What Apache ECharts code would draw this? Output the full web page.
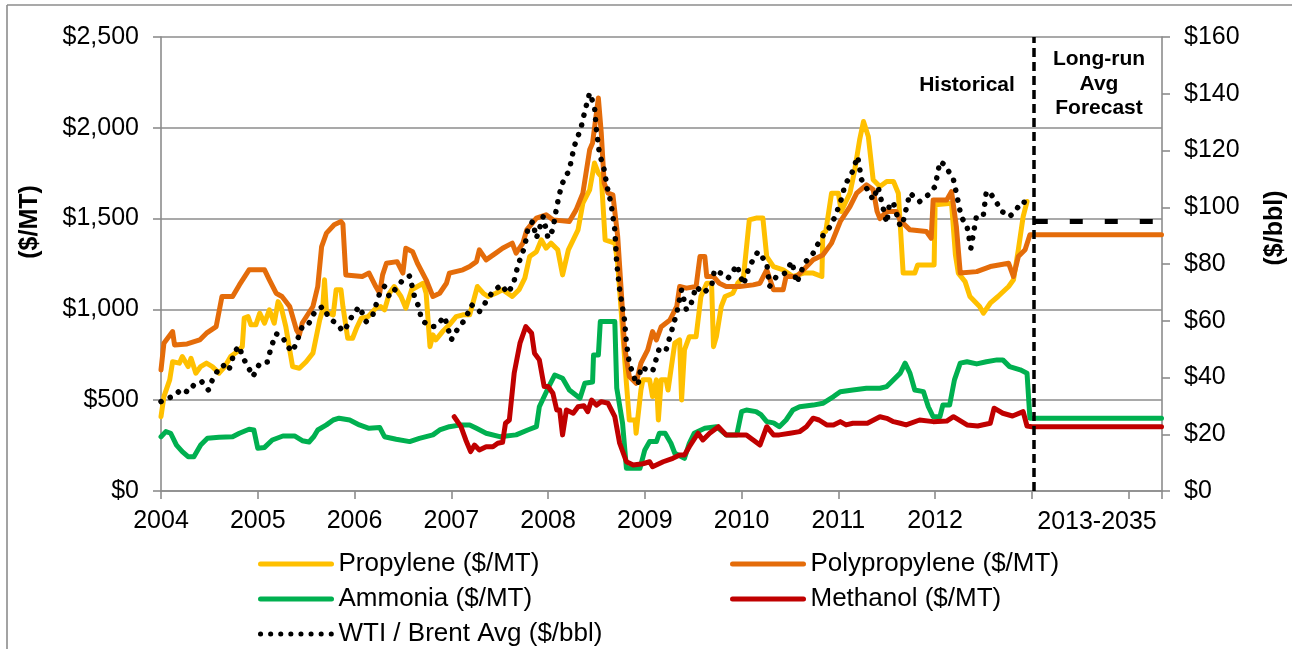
<!DOCTYPE html>
<html>
<head>
<meta charset="utf-8">
<script src="https://cdn.jsdelivr.net/npm/echarts@6/dist/echarts.min.js"></script>
<style>
  html, body { margin: 0; padding: 0; background: #fff; }
  #main { width: 1292px; height: 649px; }
</style>
</head>
<body>
<div id="main"></div>
<script>
// [year, $/MT]
const propylene = [
  [2004.00, 409], [2004.03, 520], [2004.09, 612], [2004.12, 712], [2004.19, 704], [2004.22, 740],
  [2004.28, 685], [2004.31, 731], [2004.36, 649], [2004.41, 685], [2004.47, 704], [2004.53, 685],
  [2004.60, 649], [2004.66, 685], [2004.72, 740], [2004.79, 768], [2004.84, 795], [2004.86, 952],
  [2004.90, 960], [2004.93, 915], [2004.98, 915], [2005.02, 979], [2005.07, 924], [2005.12, 997],
  [2005.17, 924], [2005.21, 1043], [2005.24, 1016], [2005.29, 905], [2005.33, 777], [2005.36, 685],
  [2005.43, 676], [2005.50, 712], [2005.57, 759], [2005.64, 942], [2005.67, 997], [2005.69, 1163],
  [2005.71, 985], [2005.78, 970], [2005.81, 1108], [2005.86, 1108], [2005.88, 1016], [2005.93, 841],
  [2005.98, 841], [2006.02, 896], [2006.07, 952], [2006.14, 960], [2006.22, 1007], [2006.27, 1016],
  [2006.31, 997], [2006.36, 1089], [2006.41, 1126], [2006.48, 1071], [2006.53, 1007], [2006.59, 1108],
  [2006.71, 1144], [2006.74, 1089], [2006.78, 795], [2006.81, 860], [2006.84, 832], [2006.91, 878],
  [2006.98, 915], [2007.05, 960], [2007.12, 970], [2007.19, 970], [2007.27, 1126], [2007.33, 1089],
  [2007.38, 1071], [2007.46, 1089], [2007.53, 1108], [2007.63, 1071], [2007.70, 1108], [2007.76, 1172],
  [2007.81, 1291], [2007.88, 1318], [2007.93, 1383], [2007.98, 1337], [2008.03, 1365], [2008.10, 1328],
  [2008.15, 1190], [2008.21, 1328], [2008.26, 1383], [2008.31, 1438], [2008.36, 1585], [2008.43, 1658],
  [2008.48, 1806], [2008.52, 1750], [2008.55, 1732], [2008.59, 1383], [2008.69, 1365], [2008.72, 1254],
  [2008.77, 887], [2008.81, 593], [2008.84, 391], [2008.90, 391], [2008.91, 318], [2008.96, 556],
  [2008.98, 612], [2009.05, 612], [2009.08, 520], [2009.12, 612], [2009.14, 391], [2009.17, 612],
  [2009.22, 612], [2009.24, 556], [2009.27, 667], [2009.31, 814], [2009.36, 832], [2009.38, 501],
  [2009.41, 777], [2009.46, 850], [2009.53, 850], [2009.58, 1071], [2009.64, 1144], [2009.69, 1144],
  [2009.71, 795], [2009.74, 850], [2009.76, 850], [2009.79, 1016], [2009.83, 1071], [2009.91, 1089],
  [2009.96, 1144], [2010.02, 1180], [2010.08, 1493], [2010.15, 1503], [2010.22, 1503], [2010.26, 1291],
  [2010.33, 1236], [2010.43, 1218], [2010.53, 1181], [2010.64, 1200], [2010.74, 1200], [2010.83, 1181],
  [2010.84, 1420], [2010.87, 1430], [2010.93, 1640], [2011.00, 1640], [2011.03, 1539], [2011.12, 1640],
  [2011.17, 1769], [2011.22, 1934], [2011.26, 2035], [2011.31, 1952], [2011.36, 1714], [2011.43, 1677],
  [2011.50, 1704], [2011.57, 1704], [2011.62, 1640], [2011.67, 1200], [2011.79, 1200], [2011.82, 1245],
  [2011.99, 1245], [2012.00, 1576], [2012.17, 1585], [2012.21, 1300], [2012.24, 1200], [2012.31, 1153],
  [2012.36, 1071], [2012.46, 1016], [2012.50, 979], [2012.57, 1034], [2012.65, 1071], [2012.76, 1126],
  [2012.81, 1163], [2012.86, 1328], [2012.91, 1511], [2012.95, 1594]
];

const polypropylene = [
  [2004.00, 667], [2004.03, 814], [2004.12, 878], [2004.14, 804], [2004.27, 810], [2004.40, 832],
  [2004.47, 869], [2004.57, 905], [2004.63, 1071], [2004.74, 1071], [2004.81, 1135], [2004.91, 1218],
  [2005.07, 1218], [2005.12, 1163], [2005.19, 1089], [2005.25, 1071], [2005.33, 1016], [2005.40, 887],
  [2005.43, 860], [2005.46, 925], [2005.57, 1016], [2005.62, 1126], [2005.66, 1346], [2005.71, 1420],
  [2005.79, 1466], [2005.86, 1484], [2005.88, 1470], [2005.91, 1190], [2006.08, 1181], [2006.15, 1200],
  [2006.22, 1126], [2006.26, 1089], [2006.29, 1190], [2006.33, 1254], [2006.44, 1263], [2006.50, 1200],
  [2006.53, 1337], [2006.60, 1318], [2006.65, 1254], [2006.74, 1163], [2006.81, 1071], [2006.88, 1089],
  [2006.95, 1144], [2006.98, 1200], [2007.12, 1218], [2007.19, 1236], [2007.26, 1263], [2007.29, 1328],
  [2007.36, 1273], [2007.46, 1310], [2007.53, 1337], [2007.63, 1365], [2007.67, 1310], [2007.74, 1365],
  [2007.78, 1438], [2007.88, 1503], [2007.98, 1521], [2008.05, 1493], [2008.22, 1484], [2008.29, 1548],
  [2008.36, 1640], [2008.43, 1879], [2008.46, 1916], [2008.52, 2164], [2008.55, 1971], [2008.58, 1695],
  [2008.62, 1640], [2008.67, 1631], [2008.72, 1401], [2008.76, 1071], [2008.79, 795], [2008.84, 630],
  [2008.91, 593], [2008.96, 704], [2009.03, 777], [2009.08, 878], [2009.12, 832], [2009.17, 905],
  [2009.26, 942], [2009.33, 1016], [2009.36, 1126], [2009.43, 1117], [2009.53, 1126], [2009.57, 1291],
  [2009.62, 1291], [2009.64, 1181], [2009.71, 1181], [2009.77, 1144], [2009.84, 1126], [2009.98, 1126],
  [2010.12, 1135], [2010.19, 1144], [2010.26, 1218], [2010.33, 1108], [2010.43, 1108], [2010.46, 1181],
  [2010.57, 1181], [2010.64, 1218], [2010.74, 1273], [2010.84, 1300], [2010.93, 1365], [2011.02, 1484],
  [2011.12, 1566], [2011.19, 1640], [2011.29, 1686], [2011.36, 1660], [2011.40, 1540], [2011.43, 1500],
  [2011.50, 1539], [2011.60, 1539], [2011.64, 1490], [2011.74, 1438], [2011.91, 1429], [2011.96, 1392],
  [2011.98, 1603], [2012.12, 1603], [2012.17, 1649], [2012.22, 1456], [2012.26, 1200], [2012.43, 1208],
  [2012.57, 1236], [2012.76, 1254], [2012.81, 1181], [2012.86, 1291], [2012.93, 1328], [2012.98, 1411],
  [2013.00, 1411], [2014.34, 1411]
];

const ammonia = [
  [2004.00, 299], [2004.05, 327], [2004.10, 318], [2004.16, 253], [2004.22, 217], [2004.28, 189],
  [2004.34, 189], [2004.41, 253], [2004.48, 290], [2004.60, 296], [2004.74, 299], [2004.81, 318],
  [2004.91, 340], [2004.96, 336], [2005.00, 235], [2005.07, 240], [2005.15, 281], [2005.26, 303],
  [2005.38, 303], [2005.46, 277], [2005.53, 270], [2005.58, 300], [2005.62, 336], [2005.71, 364],
  [2005.78, 391], [2005.84, 401], [2005.95, 391], [2006.05, 364], [2006.15, 345], [2006.26, 350],
  [2006.31, 299], [2006.43, 285], [2006.57, 272], [2006.67, 290], [2006.81, 309], [2006.88, 336],
  [2006.98, 354], [2007.10, 364], [2007.19, 364], [2007.26, 345], [2007.36, 318], [2007.50, 299],
  [2007.67, 309], [2007.79, 336], [2007.88, 354], [2007.91, 464], [2008.00, 566], [2008.07, 639],
  [2008.15, 621], [2008.22, 556], [2008.33, 511], [2008.38, 593], [2008.46, 600], [2008.47, 749],
  [2008.52, 749], [2008.54, 933], [2008.69, 933], [2008.71, 566], [2008.77, 373], [2008.81, 125],
  [2008.95, 125], [2009.00, 226], [2009.05, 272], [2009.12, 272], [2009.15, 318], [2009.21, 318],
  [2009.27, 263], [2009.31, 208], [2009.41, 180], [2009.46, 263], [2009.51, 318], [2009.62, 345],
  [2009.74, 354], [2009.84, 309], [2009.95, 309], [2010.00, 437], [2010.05, 446], [2010.15, 437],
  [2010.20, 420], [2010.26, 382], [2010.33, 375], [2010.39, 354], [2010.46, 391], [2010.53, 446],
  [2010.60, 464], [2010.74, 473], [2010.84, 483], [2010.95, 520], [2011.02, 547], [2011.15, 556],
  [2011.29, 566], [2011.43, 566], [2011.50, 575], [2011.55, 602], [2011.64, 649], [2011.69, 704],
  [2011.74, 649], [2011.79, 556], [2011.88, 547], [2011.93, 464], [2011.98, 409], [2012.05, 409],
  [2012.08, 473], [2012.15, 473], [2012.20, 612], [2012.26, 704], [2012.33, 712], [2012.43, 700],
  [2012.53, 712], [2012.64, 722], [2012.70, 722], [2012.77, 685], [2012.88, 667], [2012.95, 649],
  [2012.98, 401], [2013.00, 401], [2014.34, 401]
];

const methanol = [
  [2007.03, 409], [2007.10, 354], [2007.15, 281], [2007.20, 217], [2007.24, 253], [2007.29, 226],
  [2007.36, 244], [2007.43, 244], [2007.48, 263], [2007.53, 268], [2007.56, 373], [2007.60, 391],
  [2007.65, 649], [2007.71, 814], [2007.77, 905], [2007.83, 869], [2007.86, 759], [2007.91, 722],
  [2007.96, 575], [2008.00, 575], [2008.05, 538], [2008.09, 446], [2008.12, 446], [2008.15, 309],
  [2008.19, 446], [2008.26, 428], [2008.31, 464], [2008.37, 470], [2008.41, 437], [2008.45, 501],
  [2008.50, 473], [2008.55, 492], [2008.62, 483], [2008.69, 409], [2008.74, 263], [2008.81, 161],
  [2008.88, 143], [2008.98, 150], [2009.05, 161], [2009.08, 134], [2009.19, 161], [2009.29, 180],
  [2009.36, 198], [2009.41, 198], [2009.46, 244], [2009.55, 318], [2009.60, 281], [2009.67, 318],
  [2009.76, 354], [2009.84, 309], [2009.95, 309], [2010.05, 309], [2010.12, 281], [2010.19, 253],
  [2010.26, 354], [2010.33, 309], [2010.39, 309], [2010.50, 318], [2010.60, 327], [2010.67, 354],
  [2010.74, 401], [2010.80, 391], [2010.88, 364], [2010.95, 364], [2011.02, 382], [2011.08, 364],
  [2011.15, 373], [2011.30, 373], [2011.43, 409], [2011.50, 400], [2011.57, 382], [2011.64, 373],
  [2011.70, 364], [2011.84, 391], [2011.98, 382], [2012.12, 385], [2012.19, 409], [2012.33, 364],
  [2012.44, 358], [2012.57, 373], [2012.61, 456], [2012.70, 428], [2012.80, 413], [2012.91, 437],
  [2012.95, 358], [2013.00, 354], [2014.34, 354]
];

// [year, $/bbl]
const wtiBrent = [
  [2004.00, 31.5], [2004.07, 32.7], [2004.14, 33.5], [2004.21, 36.0], [2004.28, 34.8], [2004.34, 37.4],
  [2004.42, 38.6], [2004.49, 35.6], [2004.53, 39.1], [2004.59, 42.7], [2004.64, 44.4], [2004.70, 42.4],
  [2004.76, 49.1], [2004.81, 51.1], [2004.84, 47.4], [2004.90, 43.8], [2004.95, 40.3], [2005.02, 45.0],
  [2005.10, 45.5], [2005.14, 50.9], [2005.19, 55.4], [2005.26, 54.4], [2005.29, 51.5], [2005.36, 49.1],
  [2005.41, 53.3], [2005.46, 58.0], [2005.52, 58.5], [2005.59, 63.2], [2005.64, 64.4], [2005.67, 65.0],
  [2005.74, 60.9], [2005.83, 58.5], [2005.88, 56.2], [2005.93, 58.5], [2005.98, 62.1], [2006.05, 65.0],
  [2006.12, 59.7], [2006.19, 62.1], [2006.26, 69.7], [2006.31, 72.1], [2006.36, 68.5], [2006.43, 71.5],
  [2006.50, 74.4], [2006.57, 75.8], [2006.62, 68.5], [2006.67, 64.4], [2006.69, 60.3], [2006.78, 58.0],
  [2006.84, 58.0], [2006.93, 61.5], [2007.00, 53.3], [2007.07, 57.4], [2007.14, 60.3], [2007.21, 65.6],
  [2007.29, 63.2], [2007.36, 66.8], [2007.43, 70.3], [2007.52, 72.7], [2007.58, 69.7], [2007.64, 72.7],
  [2007.69, 79.7], [2007.76, 86.2], [2007.79, 92.1], [2007.84, 95.0], [2007.88, 89.1], [2007.95, 96.7],
  [2008.00, 89.1], [2008.05, 92.1], [2008.09, 100.3], [2008.14, 107.9], [2008.22, 113.2], [2008.27, 121.4],
  [2008.34, 127.9], [2008.38, 133.8], [2008.43, 140.3], [2008.48, 135.5], [2008.50, 127.3], [2008.53, 119.1],
  [2008.58, 113.2], [2008.61, 107.3], [2008.65, 101.5], [2008.69, 92.1], [2008.71, 80.3], [2008.74, 70.9],
  [2008.79, 60.3], [2008.81, 52.1], [2008.84, 45.0], [2008.90, 39.1], [2008.93, 37.4], [2008.96, 43.8],
  [2009.02, 42.7], [2009.08, 42.1], [2009.15, 50.3], [2009.22, 49.7], [2009.27, 55.6], [2009.33, 62.7],
  [2009.38, 70.9], [2009.43, 63.8], [2009.48, 66.2], [2009.53, 72.1], [2009.60, 69.7], [2009.69, 72.1],
  [2009.72, 77.9], [2009.79, 76.7], [2009.86, 75.0], [2009.90, 76.7], [2009.95, 79.7], [2010.02, 72.7],
  [2010.08, 79.1], [2010.17, 84.4], [2010.26, 80.3], [2010.29, 72.1], [2010.36, 75.6], [2010.45, 76.8],
  [2010.52, 80.9], [2010.57, 73.3], [2010.65, 80.3], [2010.74, 83.8], [2010.82, 89.1], [2010.93, 93.8],
  [2011.02, 101.5], [2011.07, 107.9], [2011.14, 112.1], [2011.20, 117.9], [2011.24, 109.7], [2011.29, 106.8],
  [2011.36, 102.6], [2011.41, 107.3], [2011.50, 94.4], [2011.53, 101.5], [2011.57, 101.5], [2011.64, 93.2],
  [2011.67, 95.0], [2011.74, 105.0], [2011.84, 102.0], [2011.93, 104.4], [2012.00, 107.3], [2012.05, 116.1],
  [2012.10, 115.0], [2012.19, 109.7], [2012.22, 105.0], [2012.27, 96.7], [2012.33, 93.2], [2012.37, 85.6],
  [2012.43, 97.3], [2012.50, 97.5], [2012.53, 105.6], [2012.57, 105.0], [2012.64, 101.5], [2012.67, 99.0],
  [2012.77, 96.7], [2012.84, 99.1], [2012.89, 102.0], [2012.96, 101.5]
];

const wtiForecast = [[2013.03, 95], [2014.34, 95]];

const yearTicks = [2004, 2005, 2006, 2007, 2008, 2009, 2010, 2011, 2012];
const forecastLabel = '2013-2035';
const forecastStart = 2013.02;

const FONT = '"Liberation Sans", Arial, sans-serif';
const GRID_GRAY = '#8c8c8c';

let chart = echarts.init(document.getElementById('main'));

function lineSeries(name, data, color, axis) {
  return {
    name: name,
    type: 'line',
    yAxisIndex: axis,
    data: data,
    symbol: 'none',
    lineStyle: { color: color, width: 5, join: 'round', cap: 'round' },
    itemStyle: { color: color }
  };
}

let wti = lineSeries('WTI / Brent Avg ($/bbl)', wtiBrent, '#000000', 1);
wti.lineStyle.width = 5.5;
wti.lineStyle.type = [0.1, 10];

function legendBlock(names, left) {
  return {
    data: names,
    orient: 'vertical', left: left, top: 551, padding: 0,
    itemWidth: 71, itemHeight: 14, itemGap: 9,
    itemStyle: { opacity: 0 },
    lineStyle: { width: 5 },
    textStyle: { fontSize: 26, lineHeight: 26, color: '#000', fontFamily: FONT, padding: [0, 0, 0, 2] }
  };
}

let option = {
  animation: false,
  textStyle: { fontFamily: FONT },
  grid: { left: 161, right: 130, top: 37, bottom: 158 },
  legend: [
    legendBlock(['Propylene ($/MT)', 'Ammonia ($/MT)', 'WTI / Brent Avg ($/bbl)'], 258),
    legendBlock(['Polypropylene ($/MT)', 'Methanol ($/MT)'], 730)
  ],
  xAxis: {
    type: 'value',
    min: 2004, max: 2014.345, interval: 1,
    axisLine: { show: true, lineStyle: { color: GRID_GRAY, width: 1.6 } },
    axisTick: { show: true, length: 8, lineStyle: { color: GRID_GRAY, width: 1.6 } },
    splitLine: { show: false },
    axisLabel: {
      fontSize: 25, color: '#000', margin: 18, fontFamily: FONT,
      formatter: v => yearTicks.indexOf(v) >= 0 ? String(v) : ''
    }
  },
  yAxis: [
    {
      type: 'value', min: 0, max: 2500, interval: 500, position: 'left',
      axisLine: { show: true, lineStyle: { color: GRID_GRAY, width: 1.6 } },
      axisTick: { show: true, length: 8, lineStyle: { color: GRID_GRAY, width: 1.6 } },
      splitLine: { show: true, lineStyle: { color: GRID_GRAY, width: 1.6 } },
      axisLabel: {
        fontSize: 25, color: '#000', margin: 22, fontFamily: FONT,
        formatter: v => '$' + v.toLocaleString('en-US')
      }
    },
    {
      type: 'value', min: 0, max: 160, interval: 20, position: 'right',
      axisLine: { show: true, lineStyle: { color: GRID_GRAY, width: 1.6 } },
      axisTick: { show: true, length: 8, lineStyle: { color: GRID_GRAY, width: 1.6 } },
      splitLine: { show: false },
      axisLabel: {
        fontSize: 25, color: '#000', margin: 22, fontFamily: FONT,
        formatter: v => '$' + v
      }
    }
  ],
  series: [
    lineSeries('Propylene ($/MT)', propylene, '#FFC000', 0),
    lineSeries('Polypropylene ($/MT)', polypropylene, '#E46C0A', 0),
    lineSeries('Ammonia ($/MT)', ammonia, '#00B050', 0),
    lineSeries('Methanol ($/MT)', methanol, '#C00000', 0),
    wti,
    {
      name: 'WTI forecast',
      type: 'line',
      yAxisIndex: 1,
      data: wtiForecast,
      symbol: 'none',
      lineStyle: { color: '#000', width: 5, type: [13, 22] },
      markLine: {
        silent: true,
        symbol: 'none',
        label: { show: false },
        lineStyle: { color: '#000', width: 3.5, type: [9, 5] },
        data: [{ xAxis: forecastStart }]
      }
    }
  ],
  graphic: [
    { type: 'line', shape: { x1: 7, y1: 5, x2: 1292, y2: 5 }, style: { stroke: GRID_GRAY, lineWidth: 1.6 } },
    { type: 'line', shape: { x1: 7, y1: 5, x2: 7, y2: 649 }, style: { stroke: GRID_GRAY, lineWidth: 1.6 } },
    {
      type: 'text', x: 1097, y: 522,
      style: { text: forecastLabel, font: '25px ' + FONT, fill: '#000', align: 'center', verticalAlign: 'middle' }
    },
    {
      type: 'text', x: 967, y: 85,
      style: { text: 'Historical', font: 'bold 21px ' + FONT, fill: '#000', align: 'center', verticalAlign: 'middle' }
    },
    {
      type: 'text', x: 1099, y: 84,
      style: {
        text: 'Long-run\nAvg\nForecast', font: 'bold 21px ' + FONT, lineHeight: 24.5,
        fill: '#000', align: 'center', verticalAlign: 'middle'
      }
    },
    {
      type: 'text', x: 30, y: 222, rotation: Math.PI / 2,
      style: { text: '($/MT)', font: 'bold 25px ' + FONT, fill: '#000', align: 'center', verticalAlign: 'middle' }
    },
    {
      type: 'text', x: 1275, y: 228, rotation: Math.PI / 2,
      style: { text: '($/bbl)', font: 'bold 25px ' + FONT, fill: '#000', align: 'center', verticalAlign: 'middle' }
    }
  ]
};

chart.setOption(option);
</script>
</body>
</html>
